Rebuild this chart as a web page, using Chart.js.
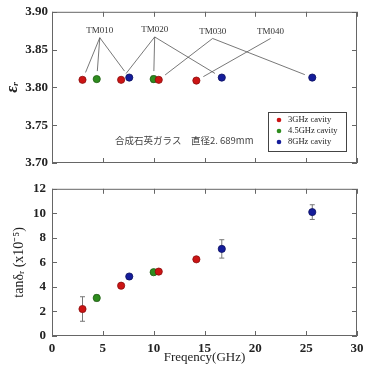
<!DOCTYPE html>
<html>
<head>
<meta charset="utf-8">
<script src="https://cdn.jsdelivr.net/npm/chart.js@4"></script>
<style>
  body { margin: 0; background: #fff; }
  #top, #bottom { position: absolute; left: 0; width: 379px; }
  #top { top: 0; height: 175px; }
  #bottom { top: 175px; height: 196px; }
</style>
</head>
<body>
<div id="top"><canvas id="epsChart" width="379" height="175"></canvas></div>
<div id="bottom"><canvas id="lossChart" width="379" height="196"></canvas></div>
<script>
// data
const freq3 = [3.0, 6.8, 10.5, 14.2];
const freq45 = [4.4, 10.0];
const freq8 = [7.6, 16.7, 25.6];

const eps3 = [3.810, 3.810, 3.810, 3.809];
const eps45 = [3.811, 3.811];
const eps8 = [3.813, 3.813, 3.813];
const epsErr45 = [0, 0.004];

const tan3 = [2.2, 4.1, 5.25, 6.25];
const tan45 = [3.1, 5.2];
const tan8 = [4.85, 7.1, 10.1];
const tanErr3 = [1.0, 0, 0, 0];
const tanErr45 = [0.25, 0];
const tanErr8 = [0, 0.75, 0.6];

const seriesNames = ['3GHz cavity', '4.5GHz cavity', '8GHz cavity'];
const colors = ['#cc1414', '#2e8c1e', '#141c9a'];
const borders = ['#8a0c0c', '#1e5e12', '#0c1060'];

const epsTicks = [3.70, 3.75, 3.80, 3.85, 3.90];
const tanTicks = [0, 2, 4, 6, 8, 10, 12];
const freqTicks = [0, 5, 10, 15, 20, 25, 30];

// mode labels: [text, label x, label y, [series index, point index] targets]
const modeLabels = [
  ['TM010', 4.7, 3.875, [[0, 0], [1, 0], [2, 0]]],
  ['TM020', 10.1, 3.876, [[0, 1], [1, 1], [2, 1]]],
  ['TM030', 15.8, 3.874, [[0, 2], [2, 2]]],
  ['TM040', 21.5, 3.874, [[0, 3]]]
];
const sampleNote = '合成石英ガラス　直径2. 689mm';

const pts = (xs, ys) => xs.map((x, i) => ({ x: x, y: ys[i] }));
const tickFont = { family: 'Liberation Serif', size: 13, weight: 'bold' };

function makeSets(sets) {
  return sets.map((d, i) => ({
    label: seriesNames[i],
    data: d,
    showLine: false,
    backgroundColor: colors[i],
    borderColor: borders[i],
    borderWidth: 0.8,
    pointRadius: 3.6
  }));
}

// frame ticks pointing inward, error bars
const framePlugin = {
  id: 'frame',
  beforeDatasetsDraw(chart, args, opts) {
    const { ctx, scales } = chart;
    ctx.save();
    ctx.strokeStyle = '#777';
    ctx.lineWidth = 1;
    (opts.errs || []).forEach((errs, si) => {
      const ds = chart.data.datasets[si].data;
      errs.forEach((e, i) => {
        if (!e) return;
        const x = scales.x.getPixelForValue(ds[i].x);
        const y1 = scales.y.getPixelForValue(ds[i].y - e);
        const y2 = scales.y.getPixelForValue(ds[i].y + e);
        ctx.beginPath();
        ctx.moveTo(x, y1); ctx.lineTo(x, y2);
        ctx.moveTo(x - 2.5, y1); ctx.lineTo(x + 2.5, y1);
        ctx.moveTo(x - 2.5, y2); ctx.lineTo(x + 2.5, y2);
        ctx.stroke();
      });
    });
    ctx.restore();
  },
  afterDraw(chart) {
    const { ctx, chartArea: a, scales } = chart;
    ctx.save();
    ctx.strokeStyle = '#666';
    ctx.lineWidth = 1;
    ctx.strokeRect(a.left + 0.5, a.top + 0.5, a.right - a.left - 1, a.bottom - a.top - 1);
    ctx.beginPath();
    scales.x.ticks.forEach(t => {
      const x = Math.round(scales.x.getPixelForValue(t.value)) + 0.5;
      ctx.moveTo(x, a.bottom); ctx.lineTo(x, a.bottom - 5);
      ctx.moveTo(x, a.top); ctx.lineTo(x, a.top + 5);
    });
    scales.y.ticks.forEach(t => {
      const y = Math.round(scales.y.getPixelForValue(t.value)) + 0.5;
      ctx.moveTo(a.left, y); ctx.lineTo(a.left + 5, y);
      ctx.moveTo(a.right, y); ctx.lineTo(a.right - 5, y);
    });
    ctx.stroke();
    ctx.restore();
  }
};

// TM labels, note and legend in the upper plot
const notesPlugin = {
  id: 'notes',
  afterDraw(chart) {
    const { ctx, scales } = chart;
    const sx = v => scales.x.getPixelForValue(v);
    const sy = v => scales.y.getPixelForValue(v);
    ctx.save();
    ctx.font = '9px "Liberation Serif"';
    ctx.textAlign = 'center';
    ctx.textBaseline = 'middle';
    ctx.strokeStyle = '#555';
    ctx.lineWidth = 0.8;
    modeLabels.forEach(([txt, lx, ly, targets]) => {
      ctx.fillStyle = '#333';
      ctx.fillText(txt, sx(lx), sy(ly));
      targets.forEach(([si, pi]) => {
        const p = chart.data.datasets[si].data[pi];
        const px = sx(p.x), py = sy(p.y);
        const ox = sx(lx), oy = sy(ly) + 7;
        const dx = px - ox, dy = py - oy;
        const len = Math.hypot(dx, dy);
        const k = (len - 8) / len;
        ctx.beginPath();
        ctx.moveTo(ox, oy);
        ctx.lineTo(ox + dx * k, oy + dy * k);
        ctx.stroke();
      });
    });

    ctx.fillStyle = '#444';
    ctx.font = '9.5px "Noto Sans CJK JP"';
    ctx.textAlign = 'left';
    ctx.fillText(sampleNote, 115, sy(3.730));

    // legend box
    const bx = 268, by = 112, bw = 78, bh = 39;
    ctx.fillStyle = '#fff';
    ctx.fillRect(bx, by, bw, bh);
    ctx.strokeStyle = '#444';
    ctx.lineWidth = 1;
    ctx.strokeRect(bx + 0.5, by + 0.5, bw, bh);
    ctx.font = '8.5px "Liberation Serif"';
    chart.data.datasets.forEach((ds, i) => {
      const y = by + 8 + i * 11;
      ctx.beginPath();
      ctx.fillStyle = colors[i];
      ctx.arc(bx + 11, y, 2.3, 0, Math.PI * 2);
      ctx.fill();
      ctx.fillStyle = '#222';
      ctx.fillText(ds.label, bx + 20, y);
    });
    ctx.restore();
  }
};

Chart.defaults.animation = false;
Chart.defaults.color = '#222';

new Chart(document.getElementById('epsChart'), {
  type: 'scatter',
  data: { datasets: makeSets([pts(freq3, eps3), pts(freq45, eps45), pts(freq8, eps8)]) },
  options: {
    responsive: false,
    layout: { padding: { top: 11, right: 22, left: 0, bottom: 0 } },
    plugins: { legend: { display: false }, tooltip: { enabled: false },
      frame: { errs: [[], epsErr45, []] } },
    scales: {
      x: {
        type: 'linear', min: 0, max: 30,
        afterBuildTicks: s => { s.ticks = freqTicks.map(v => ({ value: v })); },
        ticks: { display: false },
        grid: { display: false, drawTicks: false },
        border: { display: false },
        afterFit: s => { s.height = 12; }
      },
      y: {
        min: 3.70, max: 3.90,
        afterBuildTicks: s => { s.ticks = epsTicks.map(v => ({ value: v })); },
        ticks: { font: tickFont, padding: 4, callback: v => v.toFixed(2) },
        grid: { display: false, drawTicks: false },
        border: { display: false },
        title: { display: true, text: 'εᵣ', font: { family: 'Liberation Serif', size: 17, style: 'italic', weight: 'bold' }, padding: { top: 2 } },
        afterFit: s => { s.width = 52; }
      }
    }
  },
  plugins: [framePlugin, notesPlugin]
});

new Chart(document.getElementById('lossChart'), {
  type: 'scatter',
  data: { datasets: makeSets([pts(freq3, tan3), pts(freq45, tan45), pts(freq8, tan8)]) },
  options: {
    responsive: false,
    layout: { padding: { top: 10, right: 22, left: 0, bottom: 0 } },
    plugins: { legend: { display: false }, tooltip: { enabled: false },
      frame: { errs: [tanErr3, tanErr45, tanErr8] } },
    scales: {
      x: {
        type: 'linear', min: 0, max: 30,
        afterBuildTicks: s => { s.ticks = freqTicks.map(v => ({ value: v })); },
        ticks: { font: tickFont, padding: 5, maxRotation: 0 },
        grid: { display: false, drawTicks: false },
        border: { display: false },
        title: { display: true, text: 'Freqency(GHz)', font: { family: 'Liberation Serif', size: 13 }, padding: { top: 0, bottom: 6 } },
        afterFit: s => { s.height = 35; }
      },
      y: {
        min: 0, max: 12,
        afterBuildTicks: s => { s.ticks = tanTicks.map(v => ({ value: v })); },
        ticks: { font: tickFont, padding: 6 },
        grid: { display: false, drawTicks: false },
        border: { display: false },
        title: { display: true, text: 'tanδᵣ (x10⁻⁵)', font: { family: 'Liberation Serif', size: 14 }, padding: { top: 11 } },
        afterFit: s => { s.width = 52; }
      }
    }
  },
  plugins: [framePlugin]
});
</script>
</body>
</html>
